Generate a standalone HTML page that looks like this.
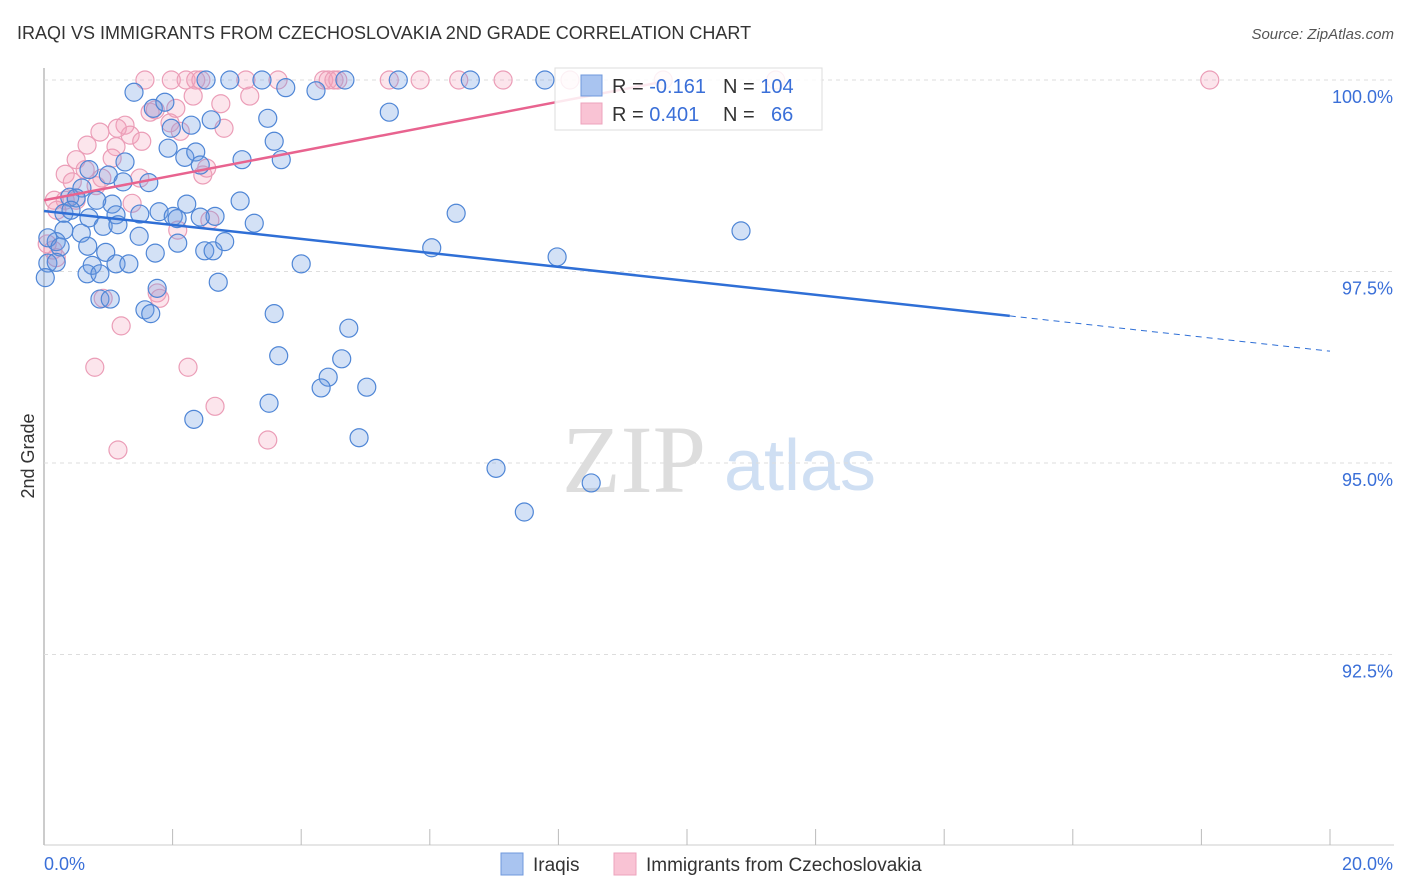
<!DOCTYPE html>
<html><head><meta charset="utf-8"><style>
body{margin:0;background:#fff;font-family:"Liberation Sans",sans-serif;}
#c{position:relative;width:1406px;height:892px;overflow:hidden;}
</style></head><body>
<div id="c">
<svg id="s" width="1406" height="892" xmlns="http://www.w3.org/2000/svg">
<text x="17" y="39" font-size="18" fill="#333">IRAQI VS IMMIGRANTS FROM CZECHOSLOVAKIA 2ND GRADE CORRELATION CHART</text>
<text x="1394" y="39" font-size="15" fill="#555" font-style="italic" text-anchor="end">Source: ZipAtlas.com</text>
<text x="0" y="0" transform="translate(34,456) rotate(-90)" font-size="18" fill="#333" text-anchor="middle">2nd Grade</text>
<text x="634" y="492" font-size="96" fill="#ddd" font-family="Liberation Serif,serif" text-anchor="middle">ZIP</text>
<text x="800" y="490" font-size="72" fill="#cfdff3" text-anchor="middle">atlas</text>
<g id="grid"></g><g id="pts"></g><g id="trend"></g>
<g>
<rect x="555" y="68" width="267" height="62" fill="#fff" fill-opacity="0.85" stroke="#ddd"/>
<rect x="581" y="75" width="21" height="21" fill="#a9c4f0" stroke="#6f98dc"/>
<rect x="581" y="103" width="21" height="21" fill="#f9c3d4" stroke="#eda3bc"/>
<text x="612" y="93" font-size="20" fill="#333">R = <tspan fill="#3a6fd8">-0.161</tspan><tspan x="723">N = </tspan><tspan fill="#3a6fd8">104</tspan></text>
<text x="612" y="121" font-size="20" fill="#333">R = <tspan fill="#3a6fd8"> 0.401</tspan><tspan x="723">N = </tspan><tspan fill="#3a6fd8" x="771">66</tspan></text>
</g>
<g>
<rect x="501" y="853" width="22" height="22" fill="#a9c4f0" stroke="#6f98dc"/>
<text x="533" y="871" font-size="19" fill="#333">Iraqis</text>
<rect x="614" y="853" width="22" height="22" fill="#f9c3d4" stroke="#eda3bc"/>
<text x="646" y="871" font-size="19" fill="#333">Immigrants from Czechoslovakia</text>
</g>
</svg>
</div>
<script>
const yTicks=[100,97.5,95,92.5];
const yTickLabels=["100.0%","97.5%","95.0%","92.5%"];
const xTicks=[0,2,4,6,8,10,12,14,16,18,20];
const xEndLabels=["0.0%","20.0%"];
const blueX=[1.40,1.70,1.88,2.89,2.52,3.39,3.76,4.23,4.68,5.51,6.63,7.79,5.37,3.48,2.60,2.29,1.98,3.58,1.93,2.19,2.36,3.08,3.69,1.26,0.70,1.00,1.23,1.63,2.43,0.59,0.40,0.50,1.06,0.82,3.05,2.22,0.31,0.42,0.70,1.12,1.49,1.79,2.01,2.66,2.43,2.07,3.27,0.92,1.15,0.58,0.31,1.48,0.19,0.06,0.25,0.68,0.96,1.73,2.50,2.63,2.81,2.08,6.03,7.98,10.84,6.41,0.06,0.19,0.75,1.12,1.32,4.00,0.67,0.87,2.71,1.76,0.02,0.87,1.03,1.57,1.66,3.58,4.74,3.65,4.63,4.42,4.31,5.02,3.50,2.33,4.90,7.03,8.51,7.47];
const blueY=[99.84,99.63,99.71,100,100,100,99.90,99.86,100,100,100,100,99.58,99.50,99.48,99.41,99.37,99.20,99.11,98.99,99.06,98.96,98.96,98.93,98.83,98.76,98.67,98.66,98.89,98.59,98.47,98.46,98.38,98.43,98.42,98.38,98.26,98.30,98.20,98.24,98.25,98.28,98.22,98.22,98.21,98.19,98.13,98.09,98.11,98.00,98.04,97.96,97.89,97.94,97.82,97.83,97.75,97.74,97.77,97.77,97.89,97.87,97.81,97.69,98.03,98.26,97.61,97.62,97.58,97.60,97.60,97.60,97.47,97.47,97.36,97.28,97.42,97.14,97.14,97.00,96.95,96.95,96.76,96.40,96.36,96.12,95.98,95.99,95.78,95.57,95.33,94.93,94.74,94.36];
const pinkX=[1.57,1.98,2.21,2.36,2.44,3.14,3.64,4.35,4.42,4.51,4.57,5.37,5.85,6.45,7.14,8.18,9.63,11.38,18.13,2.32,3.20,2.05,1.65,2.75,2.12,1.26,0.87,1.34,0.67,1.52,1.12,0.50,1.06,0.33,0.64,2.47,0.90,0.44,0.81,0.16,0.33,0.50,0.20,1.37,1.49,2.53,2.58,2.08,0.14,0.05,0.19,0.92,1.76,1.80,1.20,0.79,2.24,2.66,3.48,1.15,2.80,1.96,1.14,1.73];
const pinkY=[100,100,100,100,100,100,100,100,100,100,100,100,100,100,100,100,100,100,100,99.79,99.79,99.63,99.58,99.69,99.33,99.41,99.32,99.28,99.15,99.20,99.13,98.96,98.98,98.77,98.83,98.76,98.72,98.67,98.62,98.43,98.43,98.43,98.30,98.39,98.72,98.85,98.17,98.04,97.78,97.86,97.68,97.15,97.22,97.15,96.79,96.25,96.25,95.74,95.30,95.17,99.37,99.44,99.37,99.61];
const blueTrendX=[0,15.02,20];
const blueTrendY=[98.29,96.92,96.46];
const pinkTrendX=[0,9.58];
const pinkTrendY=[98.43,99.97];
const NS="http://www.w3.org/2000/svg";
function xs(v){return 44+v*64.3;}
function ys(v){return 80+(100-v)*76.6;}
function mk(tag,attrs,parent){const e=document.createElementNS(NS,tag);for(const k in attrs)e.setAttribute(k,attrs[k]);parent.appendChild(e);return e;}
const grid=document.getElementById('grid');
let ax=mk('line',{x1:44,y1:68,x2:44,y2:845,stroke:'#bbb','stroke-width':1.5},grid);


let bx=mk('line',{x1:44,y1:845,x2:1394,y2:845,stroke:'#ccc','stroke-width':1},grid);


yTicks.forEach((t,i)=>{
 const g=mk('line',{x1:44,x2:1394,y1:ys(t),y2:ys(t),stroke:'#ddd','stroke-dasharray':'4,4'},grid);
 
 
 const tx=mk('text',{x:1393,y:ys(t)+23,'font-size':18,fill:'#3a6fd8','text-anchor':'end'},grid);
 tx.textContent=yTickLabels[i];
 
 
});
xTicks.forEach(t=>{
 const l=mk('line',{x1:xs(t),x2:xs(t),y1:829,y2:845,stroke:'#bbb'},grid);
 
 
});
const l0=mk('text',{x:44,y:870,'font-size':18,fill:'#3a6fd8'},grid);l0.textContent=xEndLabels[0];


const l1=mk('text',{x:1393,y:870,'font-size':18,fill:'#3a6fd8','text-anchor':'end'},grid);l1.textContent=xEndLabels[1];


const pts=document.getElementById('pts');
pinkX.forEach((x,i)=>{
 const c=mk('circle',{cx:xs(x),cy:ys(pinkY[i]),r:9,fill:'rgba(244,160,188,0.28)',stroke:'#eb9db7','stroke-width':1.2},pts);
 
 
});
blueX.forEach((x,i)=>{
 const c=mk('circle',{cx:xs(x),cy:ys(blueY[i]),r:9,fill:'rgba(110,155,225,0.3)',stroke:'#4f86d6','stroke-width':1.2},pts);
 
 
});
const tr=document.getElementById('trend');
const b1=mk('line',{x1:xs(blueTrendX[0]),y1:ys(blueTrendY[0]),x2:xs(blueTrendX[1]),y2:ys(blueTrendY[1]),stroke:'#2f6fd6','stroke-width':2.5},tr);


const b2=mk('line',{x1:xs(blueTrendX[1]),y1:ys(blueTrendY[1]),x2:xs(blueTrendX[2]),y2:ys(blueTrendY[2]),stroke:'#2f6fd6','stroke-width':1,'stroke-dasharray':'6,5'},tr);


const p1=mk('line',{x1:xs(pinkTrendX[0]),y1:ys(pinkTrendY[0]),x2:xs(pinkTrendX[1]),y2:ys(pinkTrendY[1]),stroke:'#e8638f','stroke-width':2.5},tr);


</script>
</body></html>
